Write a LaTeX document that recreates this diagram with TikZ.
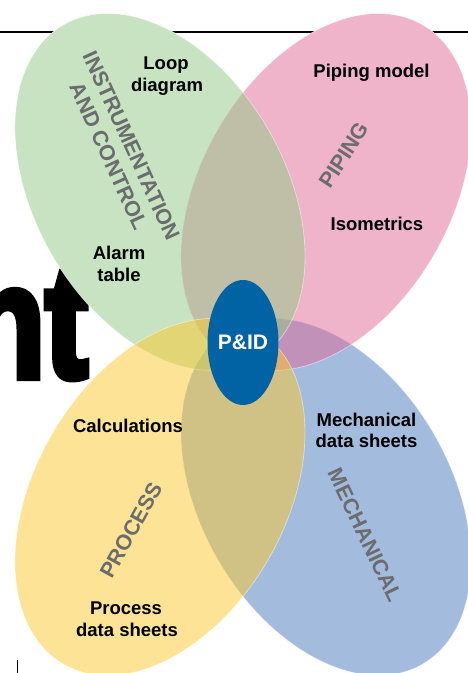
\documentclass[tikz,border=0pt]{standalone}
\usepackage{graphicx}
\usepackage{fontspec}
\setmainfont{Liberation Sans}
\newfontfamily\heavyfont[BoldFeatures={FakeBold=5}]{Liberation Sans}
\usetikzlibrary{shapes.geometric}
\definecolor{gbase}{RGB}{145,201,133}
\definecolor{pbase}{RGB}{225,105,151}
\definecolor{ybase}{RGB}{253,201,45}
\definecolor{bbase}{RGB}{73,121,189}
\definecolor{pidblue}{RGB}{2,99,164}
\definecolor{catgray}{RGB}{106,108,110}
\begin{document}
\begin{tikzpicture}[x=1pt,y=1pt,
  petal/.style={fill opacity=0.5, draw=white, draw opacity=0.45, line width=0.8pt},
  under/.style={fill=white},
  lab/.style={font=\fontsize{18.5}{22}\selectfont\bfseries, inner sep=0pt, anchor=base},
  cat/.style={font=\fontsize{21.5}{25}\selectfont\bfseries, text=catgray, inner sep=0pt, align=center}]
\useasboundingbox (0,0) rectangle (468,673);
% top rule and small mark
\coordinate (lineL) at (0,641);
\coordinate (lineR) at (468,641);
\draw[line width=2pt] (lineL) -- (lineR);
\coordinate (markA) at (17.5,0);
\coordinate (markB) at (17.5,13);
\draw[line width=1.2pt] (markA) -- (markB);
% big cut-off title fragment
\node[inner sep=0pt, anchor=base east] (title) at (88,296)
  {\scalebox{0.8}[1]{\heavyfont\bfseries\fontsize{160}{165}\selectfont nt}};
% petal centres
\coordinate (cG) at (160,481);
\coordinate (cP) at (326,481);
\coordinate (cY) at (160,176);
\coordinate (cB) at (326,176);
% opaque white underlay
\fill[under, rotate around={30:(cB)}] (cB) ellipse [x radius=125, y radius=193];
\fill[under, rotate around={-30:(cP)}] (cP) ellipse [x radius=125, y radius=193];
\fill[under, rotate around={30:(cG)}] (cG) ellipse [x radius=125, y radius=193];
\fill[under, rotate around={-30:(cY)}] (cY) ellipse [x radius=125, y radius=193];
% translucent petals
\filldraw[petal, fill=bbase, rotate around={30:(cB)}] (cB) ellipse [x radius=125, y radius=193];
\filldraw[petal, fill=pbase, rotate around={-30:(cP)}] (cP) ellipse [x radius=125, y radius=193];
\filldraw[petal, fill=gbase, rotate around={30:(cG)}] (cG) ellipse [x radius=125, y radius=193];
\filldraw[petal, fill=ybase, rotate around={-30:(cY)}] (cY) ellipse [x radius=125, y radius=193];
% centre
\node[ellipse, fill=pidblue, minimum width=64pt, minimum height=125pt, inner sep=0pt,
  text=white, font=\fontsize{21}{24}\selectfont\bfseries] (pid) at (243,330.5) {P\&ID};
% category labels
\node[cat, rotate=-65.5] (inst) at (120,522) {INSTRUMENTATION\\AND CONTROL};
\node[cat, rotate=57] (piping) at (344,518) {PIPING};
\node[cat, rotate=61] (process) at (131,143) {PROCESS};
\node[cat, rotate=-64.5] (mech) at (365,138) {MECHANICAL};
% item labels
\node[lab] (loop1) at (166,603) {Loop};
\node[lab] (loop2) at (167,581) {diagram};
\node[lab] (pipingmodel) at (371.5,595) {Piping model};
\node[lab] (iso) at (377,442) {Isometrics};
\node[lab] (alarm1) at (119,413) {Alarm};
\node[lab] (alarm2) at (119,391) {table};
\node[lab] (calc) at (128,240) {Calculations};
\node[lab] (mech1) at (366.5,246) {Mechanical};
\node[lab] (mech2) at (366.5,225) {data sheets};
\node[lab] (proc1) at (126,58) {Process};
\node[lab] (proc2) at (127,36) {data sheets};
\end{tikzpicture}
\end{document}
